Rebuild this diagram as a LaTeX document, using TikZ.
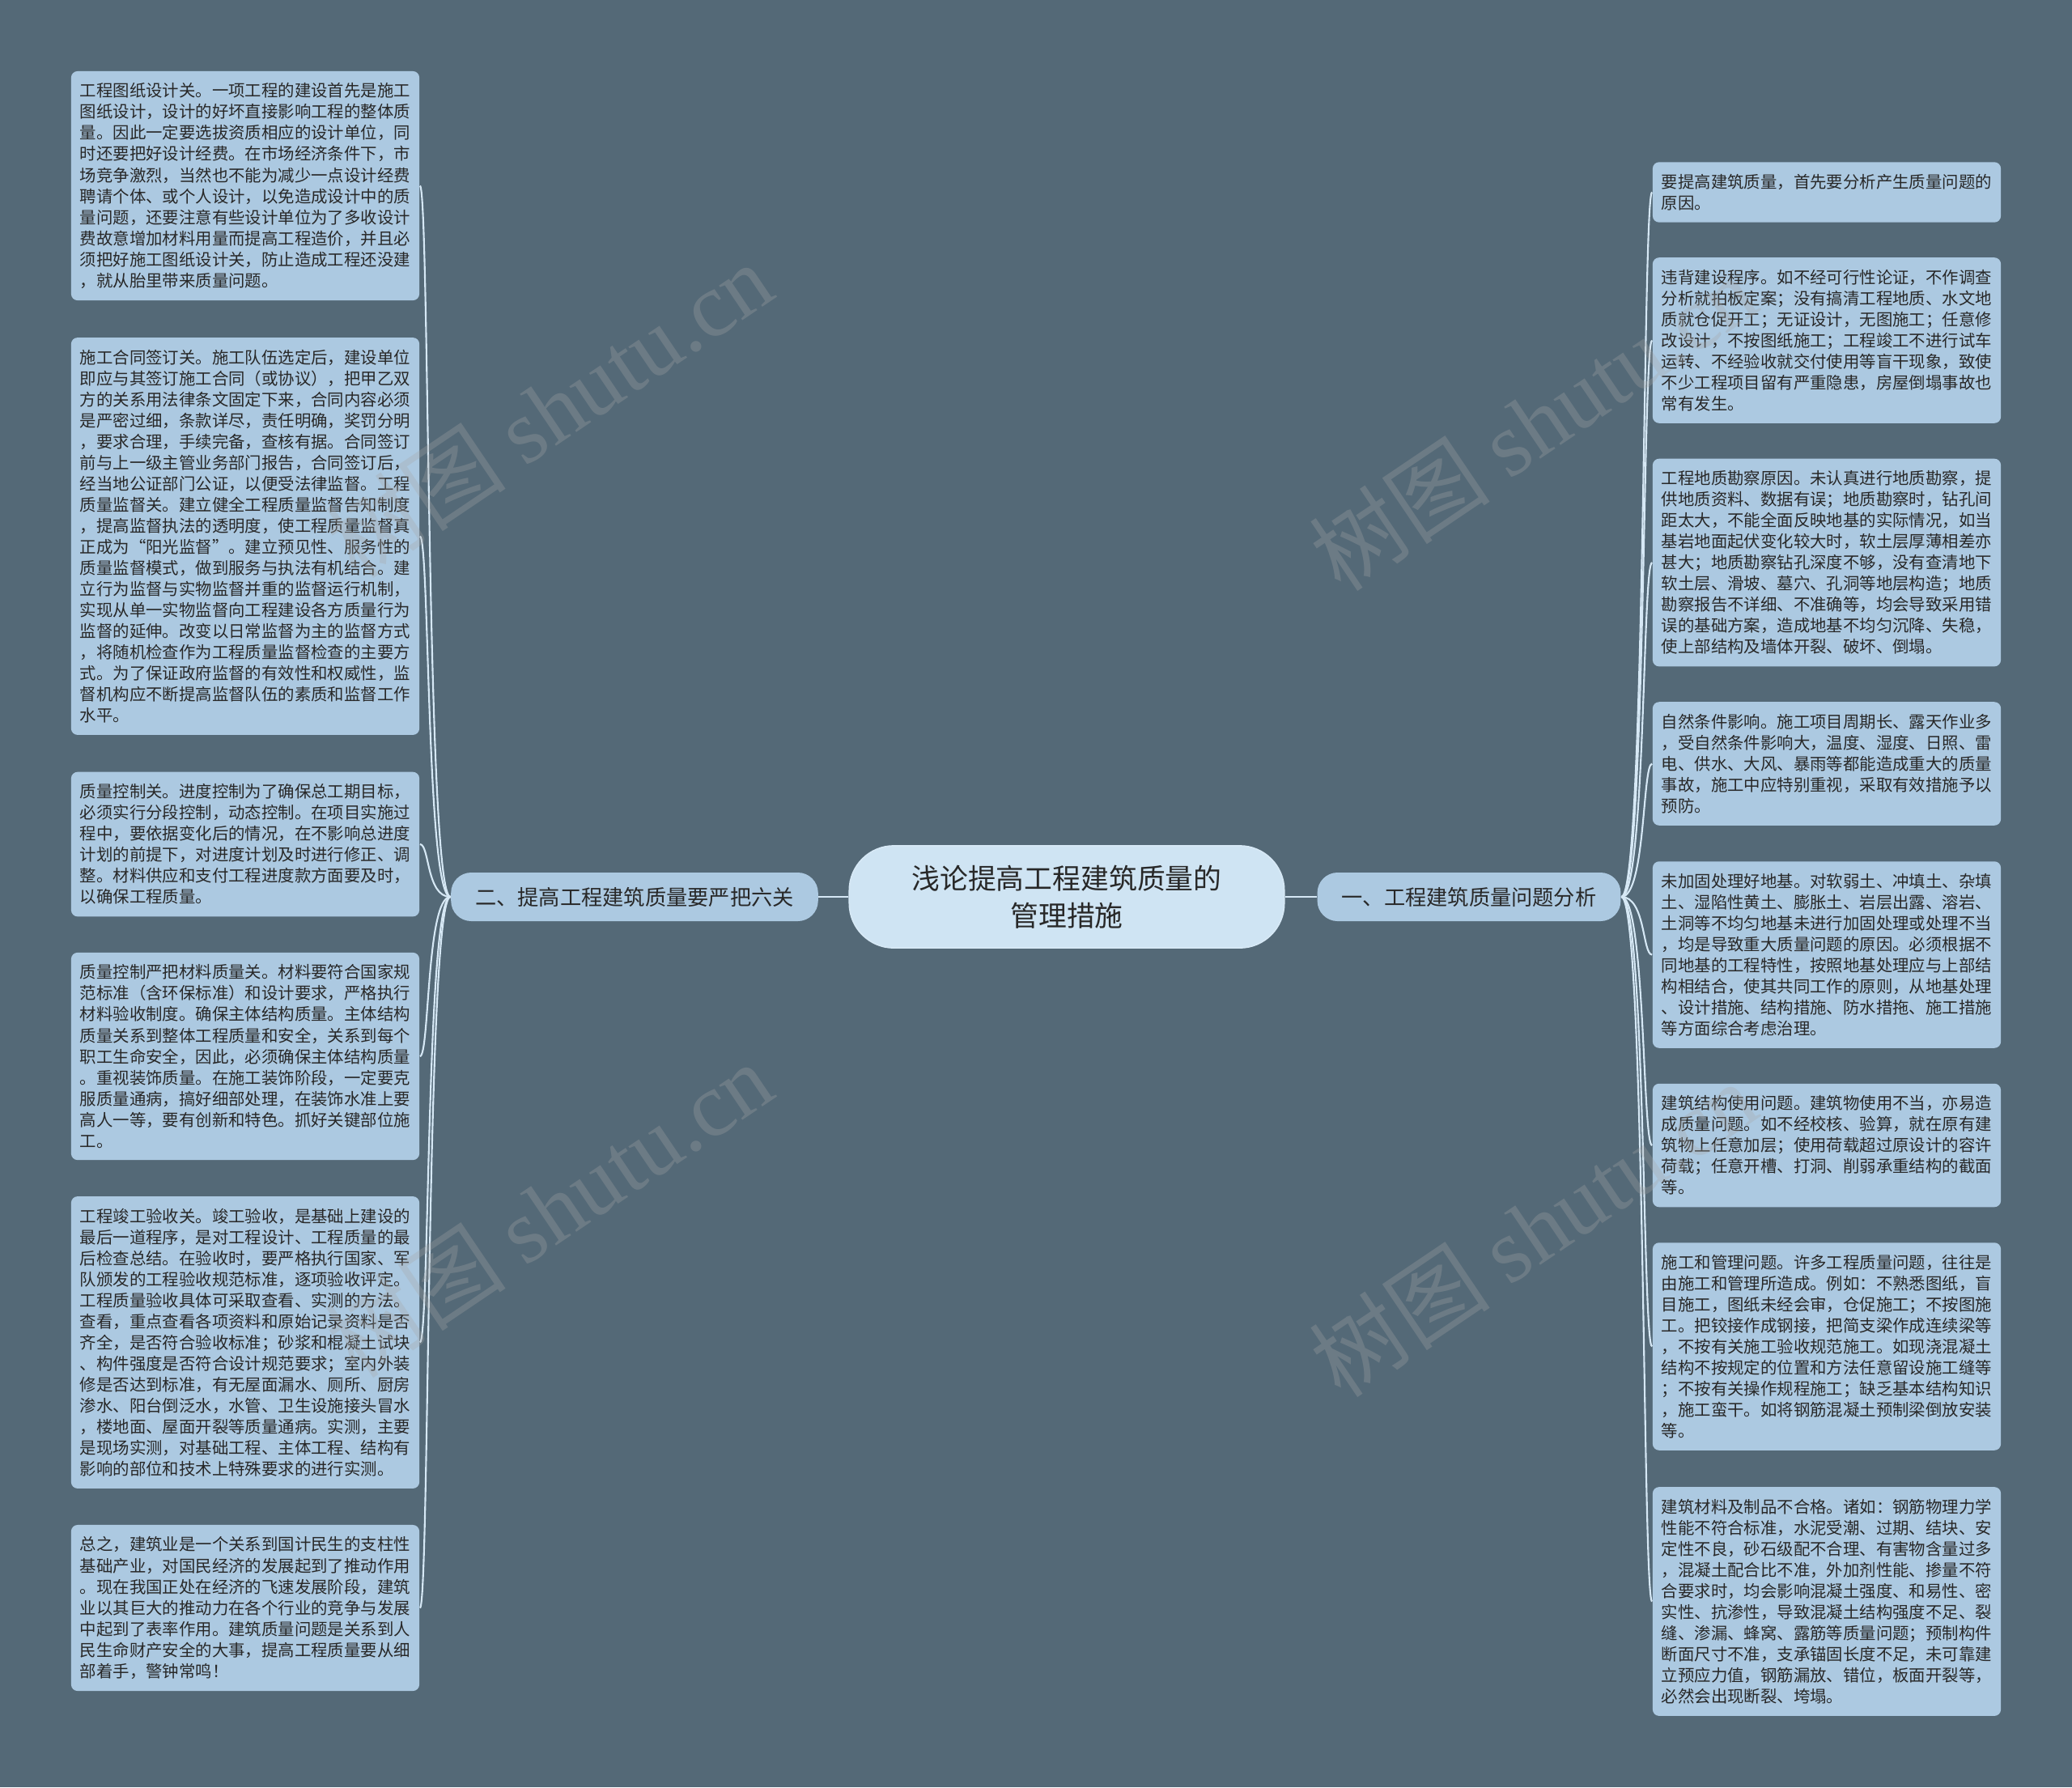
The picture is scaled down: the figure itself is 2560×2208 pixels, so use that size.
\documentclass[tikz,border=0pt]{standalone}
\usepackage{fontspec}
\setmainfont{Noto Sans CJK SC}
\newfontfamily\wmfont{Liberation Serif}
\definecolor{bgc}{RGB}{84,105,119}
\definecolor{leafc}{RGB}{172,201,225}
\definecolor{rootc}{RGB}{207,228,243}
\definecolor{linec}{RGB}{214,232,245}
\definecolor{txtc}{RGB}{40,40,40}
\tikzset{
  leaf/.style={fill=leafc, rounded corners=0.08cm, text=txtc, align=left,
    text width=4.08cm, inner xsep=0.11cm, inner ysep=4.2pt,
    font=\fontsize{5.8pt}{7.4pt}\selectfont},
  branch/.style={fill=leafc, rounded corners=0.25cm, text=txtc,
    inner xsep=0.3cm, minimum height=0.6cm, font=\fontsize{7.46pt}{9pt}\selectfont},
  root/.style={fill=rootc, draw=linec, line width=0.5pt, rounded corners=0.55cm, text=txtc,
    align=center, minimum width=5.37cm, minimum height=1.26cm,
    font=\fontsize{9.9pt}{13pt}\selectfont},
  conn/.style={draw=linec, line width=0.6pt},
  wm/.style={text=gray!70, opacity=0.3, rotate=34, font=\fontsize{32pt}{32pt}\selectfont}
}
\begin{document}
\begin{tikzpicture}[x=0.01cm, y=-0.01cm]
	% background
	\fill[bgc] (0,0) rectangle (2560,2208);
	\useasboundingbox (0,0) rectangle (2560,2208);

	% root and branches
	\node[root] (root) at (1318,1108) {浅论提高工程建筑质量的\\管理措施};
	\node[branch] (left) at (784,1108) {二、提高工程建筑质量要严把六关};
	\node[branch] (right) at (1815,1108) {一、工程建筑质量问题分析};

	% left leaves
	\node[leaf] (l1) at (303,229.5) {工程图纸设计关。一项工程的建设首先是施工\\图纸设计，设计的好坏直接影响工程的整体质\\量。因此一定要选拔资质相应的设计单位，同\\时还要把好设计经费。在市场经济条件下，市\\场竞争激烈，当然也不能为减少一点设计经费\\聘请个体、或个人设计，以免造成设计中的质\\量问题，还要注意有些设计单位为了多收设计\\费故意增加材料用量而提高工程造价，并且必\\须把好施工图纸设计关，防止造成工程还没建\\，就从胎里带来质量问题。};
	\node[leaf] (l2) at (303,662.5) {施工合同签订关。施工队伍选定后，建设单位\\即应与其签订施工合同（或协议），把甲乙双\\方的关系用法律条文固定下来，合同内容必须\\是严密过细，条款详尽，责任明确，奖罚分明\\，要求合理，手续完备，查核有据。合同签订\\前与上一级主管业务部门报告，合同签订后，\\经当地公证部门公证，以便受法律监督。工程\\质量监督关。建立健全工程质量监督告知制度\\，提高监督执法的透明度，使工程质量监督真\\正成为“阳光监督”。建立预见性、服务性的\\质量监督模式，做到服务与执法有机结合。建\\立行为监督与实物监督并重的监督运行机制，\\实现从单一实物监督向工程建设各方质量行为\\监督的延伸。改变以日常监督为主的监督方式\\，将随机检查作为工程质量监督检查的主要方\\式。为了保证政府监督的有效性和权威性，监\\督机构应不断提高监督队伍的素质和监督工作\\水平。};
	\node[leaf] (l3) at (303,1043) {质量控制关。进度控制为了确保总工期目标，\\必须实行分段控制，动态控制。在项目实施过\\程中，要依据变化后的情况，在不影响总进度\\计划的前提下，对进度计划及时进行修正、调\\整。材料供应和支付工程进度款方面要及时，\\以确保工程质量。};
	\node[leaf] (l4) at (303,1305) {质量控制严把材料质量关。材料要符合国家规\\范标准（含环保标准）和设计要求，严格执行\\材料验收制度。确保主体结构质量。主体结构\\质量关系到整体工程质量和安全，关系到每个\\职工生命安全，因此，必须确保主体结构质量\\。重视装饰质量。在施工装饰阶段，一定要克\\服质量通病，搞好细部处理，在装饰水准上要\\高人一等，要有创新和特色。抓好关键部位施\\工。};
	\node[leaf] (l5) at (303,1658.5) {工程竣工验收关。竣工验收，是基础上建设的\\最后一道程序，是对工程设计、工程质量的最\\后检查总结。在验收时，要严格执行国家、军\\队颁发的工程验收规范标准，逐项验收评定。\\工程质量验收具体可采取查看、实测的方法。\\查看，重点查看各项资料和原始记录资料是否\\齐全，是否符合验收标准；砂浆和棍凝土试块\\、构件强度是否符合设计规范要求；室内外装\\修是否达到标准，有无屋面漏水、厕所、厨房\\渗水、阳台倒泛水，水管、卫生设施接头冒水\\，楼地面、屋面开裂等质量通病。实测，主要\\是现场实测，对基础工程、主体工程、结构有\\影响的部位和技术上特殊要求的进行实测。};
	\node[leaf] (l6) at (303,1986.5) {总之，建筑业是一个关系到国计民生的支柱性\\基础产业，对国民经济的发展起到了推动作用\\。现在我国正处在经济的飞速发展阶段，建筑\\业以其巨大的推动力在各个行业的竞争与发展\\中起到了表率作用。建筑质量问题是关系到人\\民生命财产安全的大事，提高工程质量要从细\\部着手，警钟常鸣！};

	% right leaves
	\node[leaf] (r1) at (2257,237.5) {要提高建筑质量，首先要分析产生质量问题的\\原因。};
	\node[leaf] (r2) at (2257,420.5) {违背建设程序。如不经可行性论证，不作调查\\分析就拍板定案；没有搞清工程地质、水文地\\质就仓促开工；无证设计，无图施工；任意修\\改设计，不按图纸施工；工程竣工不进行试车\\运转、不经验收就交付使用等盲干现象，致使\\不少工程项目留有严重隐患，房屋倒塌事故也\\常有发生。};
	\node[leaf] (r3) at (2257,695) {工程地质勘察原因。未认真进行地质勘察，提\\供地质资料、数据有误；地质勘察时，钻孔间\\距太大，不能全面反映地基的实际情况，如当\\基岩地面起伏变化较大时，软土层厚薄相差亦\\甚大；地质勘察钻孔深度不够，没有查清地下\\软土层、滑坡、墓穴、孔洞等地层构造；地质\\勘察报告不详细、不准确等，均会导致采用错\\误的基础方案，造成地基不均匀沉降、失稳，\\使上部结构及墙体开裂、破坏、倒塌。};
	\node[leaf] (r4) at (2257,943.5) {自然条件影响。施工项目周期长、露天作业多\\，受自然条件影响大，温度、湿度、日照、雷\\电、供水、大风、暴雨等都能造成重大的质量\\事故，施工中应特别重视，采取有效措施予以\\预防。};
	\node[leaf] (r5) at (2257,1179.5) {未加固处理好地基。对软弱土、冲填土、杂填\\土、湿陷性黄土、膨胀土、岩层出露、溶岩、\\土洞等不均匀地基未进行加固处理或处理不当\\，均是导致重大质量问题的原因。必须根据不\\同地基的工程特性，按照地基处理应与上部结\\构相结合，使其共同工作的原则，从地基处理\\、设计措施、结构措施、防水措拖、施工措施\\等方面综合考虑治理。};
	\node[leaf] (r6) at (2257,1415) {建筑结构使用问题。建筑物使用不当，亦易造\\成质量问题。如不经校核、验算，就在原有建\\筑物上任意加层；使用荷载超过原设计的容许\\荷载；任意开槽、打洞、削弱承重结构的截面\\等。};
	\node[leaf] (r7) at (2257,1663.5) {施工和管理问题。许多工程质量问题，往往是\\由施工和管理所造成。例如：不熟悉图纸，盲\\目施工，图纸未经会审，仓促施工；不按图施\\工。把铰接作成钢接，把简支梁作成连续梁等\\，不按有关施工验收规范施工。如现浇混凝土\\结构不按规定的位置和方法任意留设施工缝等\\；不按有关操作规程施工；缺乏基本结构知识\\，施工蛮干。如将钢筋混凝土预制梁倒放安装\\等。};
	\node[leaf] (r8) at (2257,1978.5) {建筑材料及制品不合格。诸如：钢筋物理力学\\性能不符合标准，水泥受潮、过期、结块、安\\定性不良，砂石级配不合理、有害物含量过多\\，混凝土配合比不准，外加剂性能、掺量不符\\合要求时，均会影响混凝土强度、和易性、密\\实性、抗渗性，导致混凝土结构强度不足、裂\\缝、渗漏、蜂窝、露筋等质量问题；预制构件\\断面尺寸不准，支承锚固长度不足，未可靠建\\立预应力值，钢筋漏放、错位，板面开裂等，\\必然会出现断裂、垮塌。};

	% connectors
	\draw[conn] (root.west) -- (left.east);
	\draw[conn] (root.east) -- (right.west);
	\foreach \n in {l1,l2,l3,l4,l5,l6}
		\draw[conn] (left.west) .. controls +(-30,0) and +(12,0) .. (\n.east);
	\foreach \n in {r1,r2,r3,r4,r5,r6,r7,r8}
		\draw[conn] (right.east) .. controls +(30,0) and +(-12,0) .. (\n.west);

	% watermark
	\foreach \p in {(678,506),(1894,522),(678,1494),(1894,1518)}
		\node[wm] at \p {树图 {\wmfont shutu.cn}};
\end{tikzpicture}
\end{document}
